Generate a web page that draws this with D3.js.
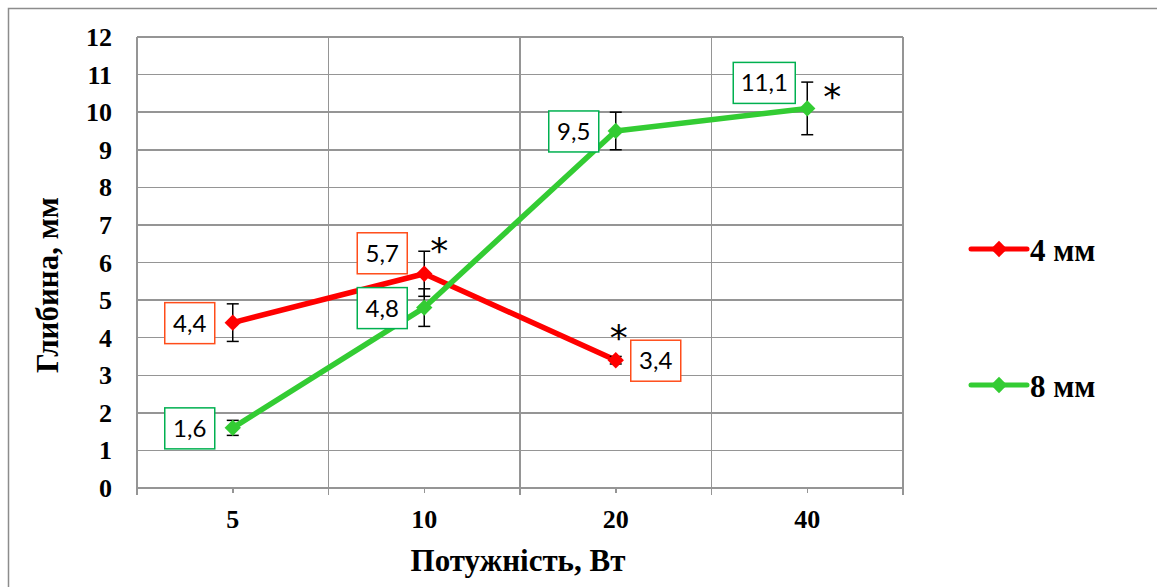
<!DOCTYPE html>
<meta charset="utf-8">
<style>
body { margin: 0; background: #fff; }
.grid line { stroke: #959595; stroke-width: 1.5; shape-rendering: crispEdges; }
.tick-lbl { font: bold 26px "Liberation Serif", "DejaVu Serif", serif; fill: #000; }
.title { font: bold 31px "Liberation Serif", serif; fill: #000; }
.vlabel { font: 24px Lato, "Open Sans", sans-serif; fill: #000; }
</style>
<body>
<script src="https://d3js.org/d3.v7.min.js"></script>
<script>
// data
var powers = ["5", "10", "20", "40"];
var yTicks = [0, 1, 2, 3, 4, 5, 6, 7, 8, 9, 10, 11, 12];

var mm4 = [4.4, 5.7, 3.4];          // 5, 10, 20 W
var mm4Err = [0.5, 0.6, 0.1];
var mm4Labels = ["4,4", "5,7", "3,4"];
var mm4Star = [false, true, true];

var mm8 = [1.6, 4.8, 9.5, 10.1];    // 5, 10, 20, 40 W
var mm8Err = [0.2, 0.5, 0.5, 0.7];
var mm8Labels = ["1,6", "4,8", "9,5", "11,1"];
var mm8Star = [false, false, false, true];

var seriesNames = ["4 мм", "8 мм"];

var W = 1157, H = 587;
var svg = d3.select("body").append("svg")
    .attr("width", W).attr("height", H);

// outer frame
svg.append("rect")
    .attr("x", 8.5).attr("y", 8.5)
    .attr("width", 1200).attr("height", 700)
    .attr("fill", "none").attr("stroke", "#8c8c8c").attr("stroke-width", 1.5);

var x = d3.scaleBand().domain(powers).range([137, 903]).padding(0);
var y = d3.scaleLinear().domain([0, 12]).range([488, 37]);
var cx = function(p) { return x(p) + x.bandwidth() / 2; };

var grid = svg.append("g").attr("class", "grid");
// horizontal gridlines
grid.selectAll(".h").data(yTicks).enter().append("line")
    .attr("x1", 137).attr("x2", 903)
    .attr("y1", function(d) { return y(d); })
    .attr("y2", function(d) { return y(d); });
// vertical lines at category boundaries (extend a bit below the axis)
var bounds = powers.map(function(p) { return x(p); }).concat([x.range()[1]]);
grid.selectAll(".v").data(bounds).enter().append("line")
    .attr("x1", function(d) { return d; }).attr("x2", function(d) { return d; })
    .attr("y1", y(12)).attr("y2", y(0) + 7);
// small ticks at category centres
grid.selectAll(".c").data(powers).enter().append("line")
    .attr("x1", cx).attr("x2", cx)
    .attr("y1", y(0)).attr("y2", y(0) + 5);

// y tick labels
svg.selectAll(".ylbl").data(yTicks).enter().append("text")
    .attr("class", "tick-lbl")
    .attr("x", 112).attr("y", function(d) { return y(d) + 9; })
    .attr("text-anchor", "end")
    .text(function(d) { return d; });

// x tick labels
svg.selectAll(".xlbl").data(powers).enter().append("text")
    .attr("class", "tick-lbl")
    .attr("x", cx).attr("y", 528)
    .attr("text-anchor", "middle")
    .text(function(d) { return d; });

// axis titles
svg.append("text").attr("class", "title")
    .attr("x", 518).attr("y", 571)
    .attr("text-anchor", "middle")
    .text("Потужність, Вт");
svg.append("text").attr("class", "title")
    .attr("transform", "translate(58," + y(5.4) + ") rotate(-90)")
    .attr("text-anchor", "middle")
    .text("Глибина, мм");

var series = [
  { vals: mm4, err: mm4Err, labels: mm4Labels, star: mm4Star, color: "#ff0000", box: "#ff4d1a",
    off: [[-43, 0], [-42, -21], [40, 0]],
    starOff: [null, [15, 12], [3, -6]] },
  { vals: mm8, err: mm8Err, labels: mm8Labels, star: mm8Star, color: "#33cc33", box: "#00b050",
    off: [[-43, 0], [-42, 0], [-42, 0], [-43, -26]],
    starOff: [null, null, null, [25, 27]] }
];

var line = d3.line()
    .x(function(d) { return cx(d.p); })
    .y(function(d) { return y(d.v); });

var diamond = d3.symbol().type(d3.symbolDiamond2).size(170);

series.forEach(function(s) {
  var pts = s.vals.map(function(v, i) { return { p: powers[i], v: v, e: s.err[i], i: i }; });

  svg.append("path").datum(pts)
      .attr("d", line)
      .attr("fill", "none").attr("stroke", s.color)
      .attr("stroke-width", 5.5).attr("stroke-linejoin", "round");

  // error bars
  var eb = svg.append("g").selectAll("g").data(pts).enter().append("g")
      .attr("stroke", "#000").attr("stroke-width", 1.5);
  eb.append("line")
      .attr("x1", function(d) { return cx(d.p); }).attr("x2", function(d) { return cx(d.p); })
      .attr("y1", function(d) { return y(d.v + d.e); }).attr("y2", function(d) { return y(d.v - d.e); });
  [1, -1].forEach(function(sg) {
    eb.append("line")
        .attr("x1", function(d) { return cx(d.p) - 6; }).attr("x2", function(d) { return cx(d.p) + 6; })
        .attr("y1", function(d) { return y(d.v + sg * d.e); }).attr("y2", function(d) { return y(d.v + sg * d.e); });
  });

  svg.append("g").selectAll("path").data(pts).enter().append("path")
      .attr("d", diamond)
      .attr("transform", function(d) { return "translate(" + cx(d.p) + "," + y(d.v) + ")"; })
      .attr("fill", s.color);

  // value label boxes
  var lb = svg.append("g").selectAll("g").data(pts).enter().append("g")
      .attr("transform", function(d) {
        return "translate(" + (cx(d.p) + s.off[d.i][0]) + "," + (y(d.v) + s.off[d.i][1]) + ")";
      });
  lb.append("rect")
      .attr("x", function(d) { return d.i == 3 ? -31 : -25; }).attr("y", -20)
      .attr("width", function(d) { return d.i == 3 ? 62 : 50; }).attr("height", 41)
      .attr("fill", "#fff").attr("stroke", s.box).attr("stroke-width", 1.5);
  lb.append("text").attr("class", "vlabel")
      .attr("text-anchor", "middle").attr("y", 9)
      .text(function(d) { return s.labels[d.i]; });

  // significance marks
  svg.append("g").selectAll("text").data(pts.filter(function(d) { return s.star[d.i]; }))
      .enter().append("text")
      .attr("x", function(d) { return cx(d.p) + s.starOff[d.i][0]; })
      .attr("y", function(d) { return y(d.v + d.e) + s.starOff[d.i][1]; })
      .attr("text-anchor", "middle")
      .attr("font-family", "DejaVu Sans, sans-serif").attr("font-size", 36)
      .text("*");
});

// legend
var leg = svg.append("g").selectAll("g").data(series).enter().append("g")
    .attr("transform", function(d, i) { return "translate(971," + (249 + i * 136) + ")"; });
leg.append("line")
    .attr("x1", 0).attr("x2", 56).attr("y1", 0).attr("y2", 0)
    .attr("stroke", function(d) { return d.color; })
    .attr("stroke-width", 5).attr("stroke-linecap", "round");
leg.append("path")
    .attr("d", diamond)
    .attr("transform", "translate(28,0)")
    .attr("fill", function(d) { return d.color; });
leg.append("text").attr("class", "title")
    .attr("x", 59).attr("y", 12)
    .text(function(d, i) { return seriesNames[i]; });
</script>
</body>
